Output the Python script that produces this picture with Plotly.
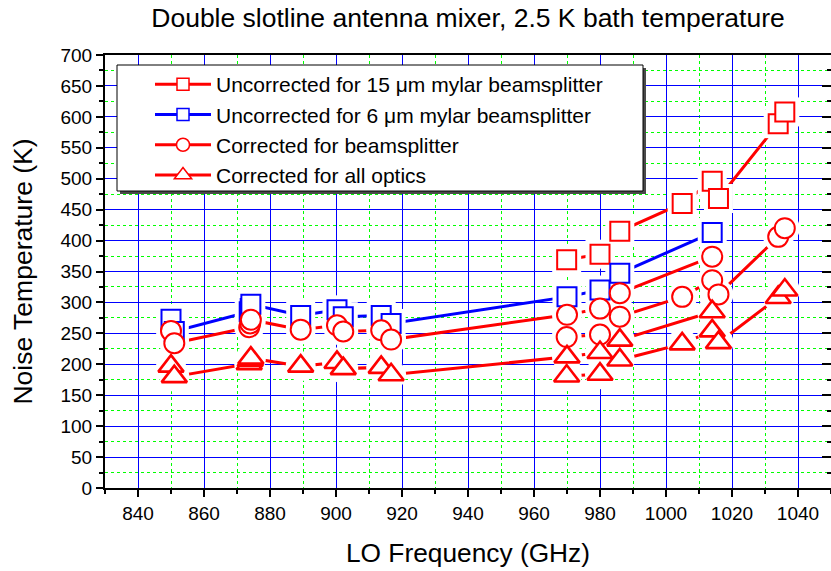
import plotly.graph_objects as go

# ---------------- data ----------------
# 15 um mylar beamsplitter measurement set
f_15 = [969.9, 980.0, 986.0, 1004.9, 1014.0, 1015.9, 1034.0, 1036.0]
T_unc_15 = [369, 378, 415, 460, 496, 468, 589, 608]
T_cbs_15 = [244, 248, 277, 309, 336, 313, 406, 420]
T_call_15 = [181, 184, 207, 233, 254, 235, 308, 320]

# 6 um mylar beamsplitter measurement set
f_6 = [850.0, 851.0, 873.7, 874.0, 874.2, 889.3, 900.3, 902.2, 913.7, 916.7,
       970.0, 980.0, 986.0, 1014.0]
T_unc_6 = [273, 253, 285, 290, 297, 279, 288, 277, 279, 266, 309, 320, 347, 413]
T_cbs_6 = [254, 234, 260, 266, 272, 256, 263, 253, 255, 240, 280, 290, 315, 374]
T_call_6 = [197, 180, 201, 206, 210, 197, 203, 193, 195, 183, 212, 219, 239, 285]

legend_names = [
    "Uncorrected for 15 \u03bcm mylar beamsplitter",
    "Uncorrected for 6 \u03bcm mylar beamsplitter",
    "Corrected for beamsplitter",
    "Corrected for all optics",
]

title_text = "Double slotline antenna mixer, 2.5 K bath temperature"
x_title = "LO Frequency (GHz)"
y_title = "Noise Temperature (K)"

RED = "#FF0000"
BLUE = "#0000FF"
FONT = "Liberation Sans, Arial, sans-serif"

# (x, y, color, symbol, size, outline width)
sets = [
    (f_15, T_unc_15, RED, "square", 19, 2),
    (f_6, T_unc_6, BLUE, "square", 19, 2),
    (f_6, T_cbs_6, RED, "circle", 20, 2),
    (f_15, T_cbs_15, RED, "circle", 20, 2),
    (f_6, T_call_6, RED, "triangle-up", 22, 2.6),
    (f_15, T_call_15, RED, "triangle-up", 22, 2.6),
]

fig = go.Figure()

# connecting lines
for x, y, c, sym, sz, lw in sets:
    fig.add_trace(go.Scatter(x=x, y=y, mode="lines", line=dict(color=c, width=3),
                             showlegend=False, hoverinfo="skip"))
# white halos that leave the small gap between line and symbol
for x, y, c, sym, sz, lw in sets:
    hs = "circle" if sym == "triangle-up" else sym
    hsz = 30 if sym == "triangle-up" else sz + 10
    fig.add_trace(go.Scatter(x=x, y=y, mode="markers",
                             marker=dict(symbol=hs, size=hsz, color="white", line=dict(width=0)),
                             showlegend=False, hoverinfo="skip"))
# symbols (white filled, coloured outline)
for x, y, c, sym, sz, lw in sets:
    fig.add_trace(go.Scatter(x=x, y=y, mode="markers",
                             marker=dict(symbol=sym, size=sz, color="white",
                                         line=dict(color=c, width=lw)),
                             showlegend=False))

# legend entries
leg_styles = [(RED, "square", 12), (BLUE, "square", 12), (RED, "circle", 13), (RED, "triangle-up", 15)]
for name, (c, sym, sz) in zip(legend_names, leg_styles):
    fig.add_trace(go.Scatter(x=[None], y=[None], mode="lines+markers", name=name,
                             line=dict(color=c, width=3),
                             marker=dict(symbol=sym, size=sz, color="white",
                                         line=dict(color=c, width=1.5))))

# dummy trace for the right-hand tick axis
fig.add_trace(go.Scatter(x=[None], y=[None], yaxis="y2", showlegend=False, hoverinfo="skip"))

# plot-area pixel geometry used to place the legend frame
PL, PR, PT, PB = 105, 831, 55, 488
PW, PH = PR - PL, PB - PT


def px(xp):
    return (xp - PL) / PW


def py(yp):
    return (PB - yp) / PH


box = dict(x0=117, x1=643, y0=65, y1=191)
shapes = [
    # shadow
    dict(type="rect", xref="paper", yref="paper", layer="above",
         x0=px(box["x0"] + 3), x1=px(box["x1"] + 3), y0=py(box["y1"] + 3), y1=py(box["y0"] + 3),
         fillcolor="#4a4a4a", line=dict(width=0)),
    # frame
    dict(type="rect", xref="paper", yref="paper", layer="above",
         x0=px(box["x0"]), x1=px(box["x1"]), y0=py(box["y1"]), y1=py(box["y0"]),
         fillcolor="white", line=dict(color="black", width=1)),
]

fig.update_layout(
    width=831, height=571,
    margin=dict(l=PL, r=0, t=PT, b=571 - PB),
    paper_bgcolor="white", plot_bgcolor="white",
    font=dict(family=FONT, color="black"),
    title=dict(text=title_text, x=0.5, xref="paper", xanchor="center",
               y=1 - 18 / 571, yanchor="middle", font=dict(size=26.5, family=FONT)),
    xaxis=dict(
        range=[830, 1050], tick0=840, dtick=20,
        showline=True, linecolor="black", linewidth=2, mirror=True,
        ticks="outside", ticklen=7, tickwidth=1.5, tickcolor="black",
        tickfont=dict(size=19, family=FONT),
        showgrid=True, gridcolor=BLUE, gridwidth=1,
        zeroline=False,
        minor=dict(dtick=10, tick0=840, ticks="outside", ticklen=4, tickwidth=1.5, tickcolor="black",
                   showgrid=True, gridcolor="#00FF00", griddash="dot", gridwidth=1),
        title=dict(text=x_title, font=dict(size=26.3, family=FONT), standoff=21),
    ),
    yaxis=dict(
        range=[0, 700], tick0=0, dtick=50,
        showline=True, linecolor="black", linewidth=2, mirror=False,
        ticks="outside", ticklen=7, tickwidth=2, tickcolor="black",
        tickfont=dict(size=19, family=FONT),
        showgrid=True, gridcolor=BLUE, gridwidth=1,
        zeroline=False,
        minor=dict(dtick=25, ticks="outside", ticklen=4, tickwidth=2, tickcolor="black",
                   showgrid=True, gridcolor="#00FF00", griddash="dot", gridwidth=1),
        title=dict(text=y_title, font=dict(size=26.5, family=FONT), standoff=20),
    ),
    yaxis2=dict(
        overlaying="y", side="right", range=[0, 700], tick0=0, dtick=50,
        ticks="inside", ticklen=9, tickwidth=2, tickcolor="black",
        showticklabels=False, showgrid=False, showline=False, zeroline=False,
        minor=dict(dtick=25, ticks="inside", ticklen=4, tickwidth=2, tickcolor="black", showgrid=False),
    ),
    shapes=shapes,
    legend=dict(
        x=px(150), y=py(64), xanchor="left", yanchor="top",
        bgcolor="rgba(0,0,0,0)", borderwidth=0,
        font=dict(size=21, family=FONT), itemwidth=56, tracegroupgap=0,
    ),
    showlegend=True,
)

fig.write_html("out.html")
